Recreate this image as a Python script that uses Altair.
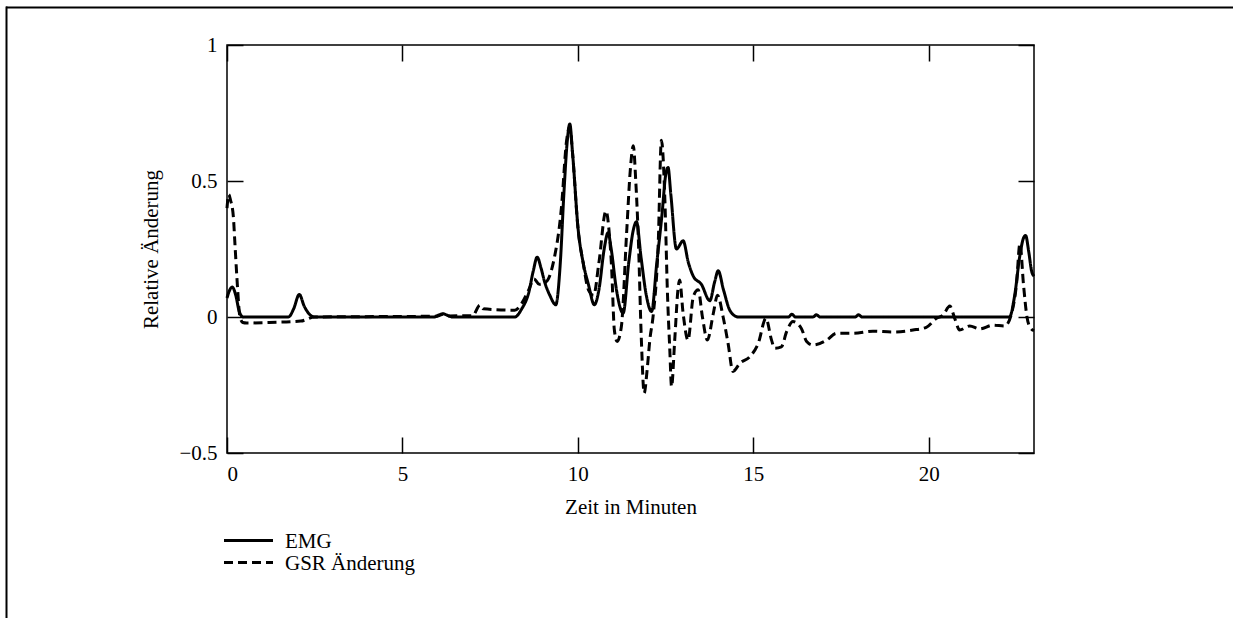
import altair as alt
import pandas as pd

# ---- data ----
emg_t = [0, 0.08, 0.15, 0.25, 0.35, 0.46, 1.75, 1.9, 2.06, 2.2, 2.35, 2.5,
         5.9, 6.05, 6.16, 6.3, 6.45, 8.2, 8.4, 8.6, 8.73, 8.84, 8.95, 9.05,
         9.2, 9.37, 9.5, 9.6, 9.7, 9.77, 9.85, 10.01, 10.15, 10.3, 10.47,
         10.6, 10.75, 10.86, 10.95, 11.1, 11.29, 11.45, 11.58, 11.67, 11.8,
         11.95, 12.1, 12.25, 12.4, 12.5, 12.57, 12.65, 12.81, 13.0, 13.15,
         13.29, 13.52, 13.76, 13.9, 14.0, 14.15, 14.35, 14.57, 16.0, 16.1,
         16.2, 16.7, 16.8, 16.9, 17.9, 18.0, 18.1, 22.3, 22.45, 22.59, 22.7,
         22.76, 22.85, 22.93, 23.0]
emg_v = [0.07, 0.1, 0.11, 0.08, 0.02, 0, 0, 0.03, 0.083, 0.04, 0.01, 0,
         0, 0.008, 0.012, 0.005, 0, 0, 0.03, 0.09, 0.17, 0.22, 0.18, 0.13,
         0.08, 0.045, 0.2, 0.45, 0.65, 0.71, 0.6, 0.32, 0.2, 0.12, 0.045,
         0.1, 0.25, 0.31, 0.25, 0.1, 0.014, 0.2, 0.32, 0.35, 0.22,
         0.08, 0.02, 0.2, 0.38, 0.52, 0.55, 0.45, 0.25, 0.28, 0.2,
         0.15, 0.12, 0.06, 0.13, 0.17, 0.1, 0.02, 0, 0, 0.01,
         0, 0, 0.008, 0, 0, 0.008, 0, 0, 0.08, 0.22, 0.29,
         0.3, 0.24, 0.17, 0.15]

gsr_t = [0, 0.05, 0.1, 0.18, 0.23, 0.28, 0.37, 0.45, 0.56, 1.2, 2.1, 2.5,
         6.0, 6.15, 6.3, 7.0, 7.21, 7.3, 8.2, 8.4, 8.6, 8.75, 8.9, 9.1, 9.3,
         9.53, 9.68, 9.77, 9.85, 10.0, 10.15, 10.3, 10.45, 10.6, 10.8, 10.9,
         10.96, 11.04, 11.12, 11.24, 11.39, 11.5, 11.58, 11.65, 11.72, 11.81,
         11.89, 11.97, 12.05, 12.15, 12.29, 12.38, 12.48, 12.55, 12.62, 12.67,
         12.76, 12.86, 12.9, 13.0, 13.14, 13.29, 13.43, 13.55, 13.69, 13.86,
         13.98, 14.14, 14.28, 14.42, 14.62, 14.9, 15.14, 15.36, 15.52, 15.61,
         15.8, 15.95, 16.13, 16.37, 16.52, 16.7, 17.09, 17.37, 17.84, 18.41,
         18.98, 19.55, 19.93, 20.22, 20.41, 20.6, 20.74, 20.88, 21.17, 21.45,
         21.83, 22.17, 22.36, 22.5, 22.6, 22.7, 22.8, 22.9, 23.0]
gsr_v = [0.40, 0.45, 0.43, 0.37, 0.26, 0.15, 0.0, -0.02, -0.022, -0.02, -0.015, 0.0,
         0.003, 0.01, 0.004, 0.005, 0.044, 0.03, 0.025, 0.05, 0.1, 0.14, 0.12, 0.13, 0.2,
         0.4, 0.65, 0.70, 0.6, 0.33, 0.2, 0.1, 0.08, 0.2, 0.39, 0.3,
         0.185, -0.048, -0.09, -0.035, 0.31, 0.55, 0.63, 0.5, 0.3, -0.085,
         -0.28, -0.2, -0.085, 0.01, 0.27, 0.65, 0.43, 0.1, -0.12, -0.256,
         -0.085, 0.11, 0.136, 0.013, -0.085, 0.075, 0.1, 0.0, -0.085, 0.013,
         0.08, 0.0, -0.096, -0.2, -0.17, -0.146, -0.097, -0.005, -0.085, -0.115,
         -0.11, -0.054, -0.017, -0.042, -0.09, -0.103, -0.085, -0.06, -0.06, -0.052,
         -0.055, -0.048, -0.038, -0.005, 0.007, 0.04, -0.005, -0.048, -0.033, -0.044,
         -0.03, -0.033, 0.013, 0.12, 0.27, 0.12, 0.0, -0.04, -0.05]

series_names = ["EMG", "GSR Änderung"]
x_ticks = [0, 5, 10, 15, 20]
y_ticks = [-0.5, 0, 0.5, 1]

emg_df = pd.DataFrame({"t": emg_t, "v": emg_v, "series": series_names[0]})
gsr_df = pd.DataFrame({"t": gsr_t, "v": gsr_v, "series": series_names[1]})
legend_df = pd.DataFrame({"series": series_names})

FONT = "Liberation Serif"
W, H = 807, 408

dash_scale = alt.Scale(domain=series_names, range=[[1, 0], [9, 5]])
xs = alt.Scale(domain=[0, 23], nice=False, zero=False)
ys = alt.Scale(domain=[-0.5, 1], nice=False, zero=False)

common_axis = dict(tickSize=16, offset=-16, domain=False, grid=False,
                   tickColor="black", tickWidth=1.5,
                   labelFont=FONT, labelFontSize=21, labelColor="black",
                   titleFont=FONT, titleFontSize=21, titleColor="black",
                   titleFontWeight="normal")

emg_line = alt.Chart(emg_df).mark_line(color="black", strokeWidth=3, interpolate="monotone").encode(
    x=alt.X("t:Q", scale=xs, axis=alt.Axis(orient="bottom", values=x_ticks, format="d",
                                           title="Zeit in Minuten", labelPadding=10,
                                           titlePadding=12, **common_axis)),
    y=alt.Y("v:Q", scale=ys, axis=alt.Axis(orient="left", values=y_ticks, format=".1~f",
                                           title="Relative Änderung", labelPadding=10,
                                           titlePadding=17, **common_axis)),
    strokeDash=alt.StrokeDash("series:N", scale=dash_scale, legend=None),
)

gsr_line = alt.Chart(gsr_df).mark_line(color="black", strokeWidth=3, interpolate="monotone").encode(
    x=alt.X("t:Q", scale=xs, axis=alt.Axis(orient="top", values=x_ticks, labels=False,
                                           title=None, **common_axis)),
    y=alt.Y("v:Q", scale=ys, axis=alt.Axis(orient="right", values=y_ticks, labels=False,
                                           title=None, **common_axis)),
    strokeDash=alt.StrokeDash("series:N", scale=dash_scale, legend=None),
)

leg_y = alt.Y("series:N", scale=alt.Scale(type="point", domain=series_names,
                                          range=[495.5, 517.5], padding=0), axis=None)

legend_lines = alt.Chart(legend_df).mark_rule(color="black", strokeWidth=3).encode(
    x=alt.value(-3), x2=alt.value(46), y=leg_y,
    strokeDash=alt.StrokeDash("series:N", scale=dash_scale, legend=None),
)
legend_text = alt.Chart(legend_df).mark_text(align="left", baseline="middle", font=FONT,
                                             fontSize=21, color="black", dy=1).encode(
    x=alt.value(58), y=leg_y, text="series:N",
)

frame_df = pd.DataFrame({"k": [0]})
frame_top = alt.Chart(frame_df).mark_rule(color="black", strokeWidth=2).encode(
    x=alt.value(-221), x2=alt.value(1010), y=alt.value(-37.5))
frame_left = alt.Chart(frame_df).mark_rule(color="black", strokeWidth=2).encode(
    x=alt.value(-220.5), y=alt.value(-38.5), y2=alt.value(600))

chart = alt.layer(emg_line, gsr_line, legend_lines, legend_text, frame_top, frame_left).resolve_scale(
    y="independent"
).resolve_axis(x="independent", y="independent").properties(
    width=W, height=H,
    background="white",
    autosize=alt.AutoSizeParams(type="none"),
    padding={"left": 227, "top": 45, "right": 199, "bottom": 165},
).configure_view(stroke="black", strokeWidth=1.5)

chart.save("out.html", embed_options={"renderer": "svg", "actions": False})
